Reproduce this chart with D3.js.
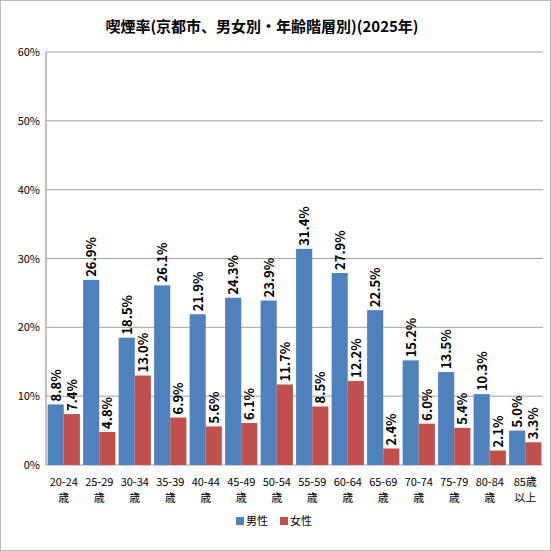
<!DOCTYPE html>
<html><head><meta charset="utf-8">
<script src="https://cdn.jsdelivr.net/npm/d3@7"></script>
<style>body{margin:0;background:#fff}text{font-family:"Noto Sans CJK JP",sans-serif}</style>
</head><body>
<svg id="c" width="551" height="551"></svg>
<script>
const categories = ['20-24|歳','25-29|歳','30-34|歳','35-39|歳','40-44|歳','45-49|歳','50-54|歳','55-59|歳','60-64|歳','65-69|歳','70-74|歳','75-79|歳','80-84|歳','85歳|以上'];
const male = [8.8,26.9,18.5,26.1,21.9,24.3,23.9,31.4,27.9,22.5,15.2,13.5,10.3,5.0];
const female = [7.4,4.8,13.0,6.9,5.6,6.1,11.7,8.5,12.2,2.4,6.0,5.4,2.1,3.3];
const yTicks = [0,10,20,30,40,50,60];
const seriesNames = ['男性','女性'];
const colors = ['#4F81BD','#C0504D'];

const svg = d3.select('#c');
svg.append('rect').attr('x',0.5).attr('y',0.5).attr('width',550).attr('height',550)
  .attr('fill','#fff').attr('stroke','#bbb');
svg.append('text').attr('x',262).attr('y',32).attr('text-anchor','middle')
  .attr('font-size',15).attr('font-weight','bold').text('喫煙率(京都市、男女別・年齢階層別)(2025年)');

const x = d3.scaleBand().domain(categories).range([46,543]);
const y = d3.scaleLinear().domain([0,60]).range([465,52]);

svg.append('g').selectAll('line').data(yTicks).join('line')
  .attr('x1',46).attr('x2',543).attr('y1',d=>y(d)).attr('y2',d=>y(d))
  .attr('stroke','#888').attr('stroke-width',0.8);
svg.append('g').selectAll('text').data(yTicks).join('text')
  .attr('x',40).attr('y',d=>y(d)+4).attr('text-anchor','end').attr('font-size',11)
  .text(d=>d+'%');
svg.append('line').attr('x1',46).attr('x2',46).attr('y1',52).attr('y2',465).attr('stroke','#888');

const inner = d3.scaleBand().domain([0,1]).range([0,x.bandwidth()]).paddingOuter(0.1);
[male,female].forEach((vals,s)=>{
  const g = svg.append('g');
  g.selectAll('rect').data(vals).join('rect')
    .attr('x',(d,i)=>x(categories[i])+inner(s)).attr('width',inner.bandwidth())
    .attr('y',d=>y(d)).attr('height',d=>y(0)-y(d)).attr('fill',colors[s]);
  g.selectAll('text').data(vals).join('text')
    .attr('transform',(d,i)=>`translate(${x(categories[i])+inner(s)+inner.bandwidth()/2+5},${y(d)-3}) rotate(-90)`)
    .attr('font-size',13).attr('font-weight','bold').text(d=>d.toFixed(1)+'%');
});

const xl = svg.append('g').selectAll('text').data(categories).join('text')
  .attr('x',d=>x(d)+x.bandwidth()/2).attr('text-anchor','middle').attr('font-size',11);
xl.append('tspan').attr('x',d=>x(d)+x.bandwidth()/2).attr('y',486).text(d=>d.split('|')[0]);
xl.append('tspan').attr('x',d=>x(d)+x.bandwidth()/2).attr('y',502).text(d=>d.split('|')[1]);

const lg = svg.append('g').selectAll('g').data(seriesNames).join('g')
  .attr('transform',(d,i)=>`translate(${236+i*44},517)`);
lg.append('rect').attr('width',8).attr('height',8).attr('fill',(d,i)=>colors[i]);
lg.append('text').attr('x',10).attr('y',8).attr('font-size',11).text(d=>d);
</script>
</body></html>
